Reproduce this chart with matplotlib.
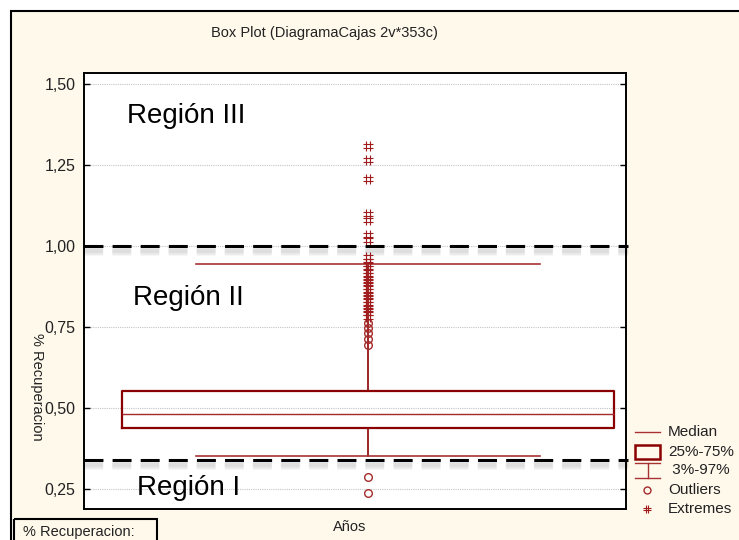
import numpy as np
import matplotlib
matplotlib.use('Agg')
import matplotlib.pyplot as plt
import matplotlib.patheffects as pe
from matplotlib.path import Path
from matplotlib.patches import Rectangle
from matplotlib.lines import Line2D

plt.rcParams['font.family'] = ['Liberation Sans', 'DejaVu Sans']

# Box plot summary values (% Recuperacion)
BOX_MEDIAN = 0.481
BOX_Q1 = 0.438
BOX_Q3 = 0.553
WHISKER_LOW = 0.353   # 3%
WHISKER_HIGH = 0.943  # 97%

outliers = [0.237, 0.286, 0.694, 0.713, 0.731, 0.747, 0.763]
extremes = [1.309, 1.264, 1.207, 1.099, 1.080, 1.034, 1.019,
            0.967, 0.955, 0.944, 0.933, 0.922, 0.912, 0.902, 0.892,
            0.882, 0.872, 0.862, 0.852, 0.842, 0.832, 0.822, 0.812,
            0.802, 0.792, 0.782]

# Region limits (dashed lines)
region_limits = [1.00, 0.34]
region_names = ['Región III', 'Región II', 'Región I']
region_label_y = [1.379, 0.818, 0.2315]

tick_values = [0.25, 0.50, 0.75, 1.00, 1.25, 1.50]
tick_labels = ['0,25', '0,50', '0,75', '1,00', '1,25', '1,50']

legend_labels = ['Median', '25%-75%', ' 3%-97%', 'Outliers', 'Extremes']

CREAM = '#FFF9EC'
BOX_RED = '#8B0000'
MARK_RED = '#A01C1C'
W, H = 739, 540


def hash_marker() -> Path:
    # STATISTICA style "extreme" symbol, a small hash sign
    verts = [(-0.35, -1), (-0.35, 1), (0.35, -1), (0.35, 1),
             (-1, -0.35), (1, -0.35), (-1, 0.35), (1, 0.35)]
    codes = [Path.MOVETO, Path.LINETO] * 4
    return Path(verts, codes)


def soft_shadow() -> list:
    # a few faint offset copies to fake the blurred drop shadow
    layers = []
    for width, alpha in [(7.0, 0.035), (5.0, 0.045), (3.0, 0.055)]:
        layers.append(pe.SimpleLineShadow(offset=(0, -3.5), shadow_color='black',
                                          alpha=alpha, linewidth=width))
    layers.append(pe.Normal())
    return layers


fig = plt.figure(figsize=(W / 100, H / 100), dpi=100)
fig.patch.set_facecolor('white')

# Background panel in pixel coordinates
bg = fig.add_axes([0, 0, 1, 1], zorder=-1)
bg.set_xlim(0, W)
bg.set_ylim(H, 0)
bg.axis('off')
bg.add_patch(Rectangle((10.5, 11), W + 10, H + 10, facecolor=CREAM,
                       edgecolor='black', lw=1.5))

# Main plot area
ax = fig.add_axes([84 / W, 1 - 508.5 / H, 542 / W, 435.5 / H])
ax.set_facecolor('white')
ax.set_xlim(0.476, 1.476)
ax.set_ylim(0.1898, 1.534)

stats = [{'med': BOX_MEDIAN, 'q1': BOX_Q1, 'q3': BOX_Q3,
          'whislo': WHISKER_LOW, 'whishi': WHISKER_HIGH, 'fliers': outliers}]
ax.bxp(stats, positions=[1], widths=[0.9077], capwidths=[0.6365],
       boxprops=dict(color=BOX_RED, lw=1.6),
       medianprops=dict(color='#A52A2A', lw=1.0),
       whiskerprops=dict(color=BOX_RED, lw=1.2),
       capprops=dict(color='#A83232', lw=1.2),
       flierprops=dict(marker='o', ms=5.5, mfc='none', mec='#A52A2A', mew=1.0))

ax.plot(np.full(len(extremes), 1.0), extremes, linestyle='none',
        marker=hash_marker(), ms=7, mfc='none', mec=MARK_RED, mew=0.8)

# Dashed region limits with a soft shadow
for level in region_limits:
    ax.axhline(level, xmin=0, xmax=1.004, color='black', lw=2.2,
               dashes=(6.2, 3.0), clip_on=False, zorder=5,
               path_effects=soft_shadow())

for name, y, x in zip(region_names, region_label_y, [0.555, 0.566, 0.574]):
    ax.text(x, y, name, fontsize=20, va='baseline', ha='left', color='black', zorder=6)

ax.set_yticks(tick_values, labels=tick_labels)
ax.set_xticks([])
ax.tick_params(axis='y', direction='in', length=4, width=1, right=True,
               labelsize=11.5, pad=6, labelcolor='#222222')
ax.yaxis.grid(True, linestyle=(0, (1, 1)), color='#c4c4c4', lw=0.8)
ax.set_axisbelow(True)
for spine in ax.spines.values():
    spine.set_linewidth(1.4)
    spine.set_color('black')

# Texts around the plot
fig.text(324 / W, 1 - 33 / H, 'Box Plot (DiagramaCajas 2v*353c)', fontsize=10.5,
         ha='center', va='center', color='#222222')
fig.text(37 / W, 1 - 387 / H, '% Recuperacion', fontsize=10.5, rotation=270,
         ha='center', va='center', color='#222222')
fig.text(350 / W, 1 - 527 / H, 'Años', fontsize=10.5, ha='center', va='center',
         color='#222222')
bg.add_patch(Rectangle((13.5, 518.5), 143, 30, facecolor='none', edgecolor='black', lw=1.5))
bg.text(23, 532, '% Recuperacion:', fontsize=10.5, ha='left', va='center', color='#222222')

# Legend drawn by hand, STATISTICA style
leg_y = [432, 451.5, 470, 490, 509]
bg.add_line(Line2D([635, 660], [leg_y[0], leg_y[0]], color='#A83232', lw=1.0))
bg.add_patch(Rectangle((635, 445), 25, 14, facecolor='none', edgecolor=BOX_RED, lw=1.8))
bg.add_line(Line2D([635, 660], [462.7, 462.7], color='#A83232', lw=1.0))
bg.add_line(Line2D([635, 660], [477.7, 477.7], color='#A83232', lw=1.0))
bg.add_line(Line2D([647.5, 647.5], [462.7, 477.7], color='#A83232', lw=1.0))
bg.plot([647], [leg_y[3]], marker='o', ms=5, mfc='none', mec='#A52A2A', mew=1.0)
bg.plot([647], [leg_y[4]], marker=hash_marker(), ms=6, mfc='none', mec=MARK_RED, mew=0.8)
for label, y in zip(legend_labels, leg_y):
    bg.text(668, y, label, fontsize=11, ha='left', va='center', color='#222222')

fig.savefig('out.png', dpi=100)
